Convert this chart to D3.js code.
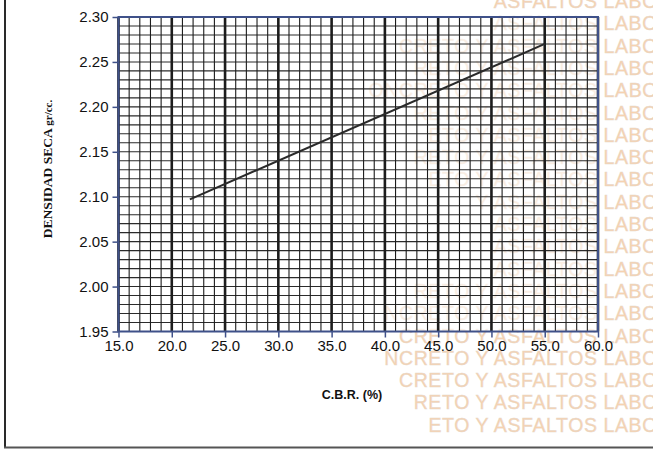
<!DOCTYPE html>
<html><head><meta charset="utf-8">
<script src="https://cdn.jsdelivr.net/npm/d3@7"></script>
<style>body{margin:0;background:#fff}svg{display:block}</style>
</head><body><svg id="c" width="653" height="450"></svg>
<script>
const lineX = [21.7, 55.0];
const lineY = [2.097, 2.27];
const xTicks = [15, 20, 25, 30, 35, 40, 45, 50, 55, 60];
const yTicks = [1.95, 2.00, 2.05, 2.10, 2.15, 2.20, 2.25, 2.30];
const xTitle = "C.B.R. (%)";
const yTitle = "DENSIDAD SECA";
const yUnit = "gr/cc.";
const wmRows = ["ASFALTOS LABO","ASFALTOS LABO","CRETO Y ASFALTOS LABO","RETO Y ASFALTOS LABO","ONCRETO Y ASFALTOS LABO","RETO Y ASFALTOS LABO","ETO Y ASFALTOS LABO","RETO Y ASFALTOS LABO","ETO Y ASFALTOS LABO","Y ASFALTOS LABO","ASFALTOS LABO","ASFALTOS LABO","ASFALTOS LABO","RETO Y ASFALTOS LABO","NCRETO Y ASFALTOS LABO","CRETO Y ASFALTOS LABO","NCRETO Y ASFALTOS LABO","CRETO Y ASFALTOS LABO","RETO Y ASFALTOS LABO","ETO Y ASFALTOS LABO"];

const svg = d3.select("#c");
const L = 118.5, R = 598, T = 17, B = 331.5;
const x = d3.scaleLinear().domain([15, 60]).range([L, R]);
const y = d3.scaleLinear().domain([1.95, 2.30]).range([B, T]);

// watermark
const wm = svg.append("g");
wmRows.forEach((t, i) => {
  wm.append("text").attr("x", 658).attr("y", 8 + i * 22.3)
    .attr("text-anchor", "end").attr("font-family", "Liberation Sans, Arial, sans-serif")
    .attr("font-size", 19.5).attr("letter-spacing", 0.6).attr("fill", "#f6d2b0").attr("stroke", "#e6d8cc").attr("stroke-width", 0.4)
    .text(t);
});

// frame
svg.append("line").attr("x1", 5).attr("x2", 5).attr("y1", 0).attr("y2", 448).attr("stroke", "#2a2a2a").attr("stroke-width", 2);
svg.append("line").attr("x1", 4).attr("x2", 653).attr("y1", 447.5).attr("y2", 447.5).attr("stroke", "#555").attr("stroke-width", 2);

// plot background
svg.append("rect").attr("x", L).attr("y", T).attr("width", R - L).attr("height", B - T).attr("fill", "#fff").attr("opacity", 0.6);

const g = svg.append("g");
const hMinor = d3.range(0, 36).map(i => 1.95 + i * 0.01);
g.selectAll(".h").data(hMinor).join("line")
  .attr("x1", L).attr("x2", R).attr("y1", d => y(d)).attr("y2", d => y(d))
  .attr("stroke", "#2b2b2b").attr("stroke-width", 1.1);
const vMinor = d3.range(15, 61);
g.selectAll(".v").data(vMinor).join("line")
  .attr("y1", T).attr("y2", B).attr("x1", d => x(d)).attr("x2", d => x(d))
  .attr("stroke", "#1c1c1c").attr("stroke-width", d => d % 5 === 0 ? 2.6 : 1.1);

g.append("path").datum(lineX.map((v, i) => [v, lineY[i]]))
  .attr("d", d3.line().x(d => x(d[0])).y(d => y(d[1])))
  .attr("fill", "none").attr("stroke", "#2a2a2a").attr("stroke-width", 2);

svg.append("rect").attr("x", L).attr("y", T).attr("width", R - L).attr("height", B - T)
  .attr("fill", "none").attr("stroke", "#3f5189").attr("stroke-width", 2);

const ax = svg.append("g").attr("transform", `translate(0,${B})`)
  .call(d3.axisBottom(x).tickValues(xTicks).tickFormat(d3.format(".1f")).tickSize(6).tickPadding(3));
ax.select(".domain").remove();
ax.selectAll("line").attr("stroke", "#3f5189").attr("stroke-width", 1.5);
ax.selectAll("text").attr("font-family", "Liberation Sans, Arial, sans-serif").attr("font-size", 15).attr("fill", "#111");

const ay = svg.append("g").attr("transform", `translate(${L},0)`)
  .call(d3.axisLeft(y).tickValues(yTicks).tickFormat(d3.format(".2f")).tickSize(6).tickPadding(4));
ay.select(".domain").remove();
ay.selectAll("line").attr("stroke", "#3f5189").attr("stroke-width", 1.5);
ay.selectAll("text").attr("font-family", "Liberation Sans, Arial, sans-serif").attr("font-size", 15).attr("fill", "#111");

svg.append("text").attr("x", 352).attr("y", 399).attr("text-anchor", "middle")
  .attr("font-family", "Liberation Sans, Arial, sans-serif").attr("font-weight", "bold").attr("font-size", 12.5).attr("fill", "#111")
  .text(xTitle);
const yt = svg.append("text").attr("transform", "translate(52,169) rotate(-90)").attr("text-anchor", "middle")
  .attr("font-family", "Liberation Serif, Times New Roman, serif").attr("font-weight", "bold").attr("fill", "#111");
yt.append("tspan").attr("font-size", 13.5).text(yTitle + " ");
yt.append("tspan").attr("font-size", 11).text(yUnit);
</script></body></html>
